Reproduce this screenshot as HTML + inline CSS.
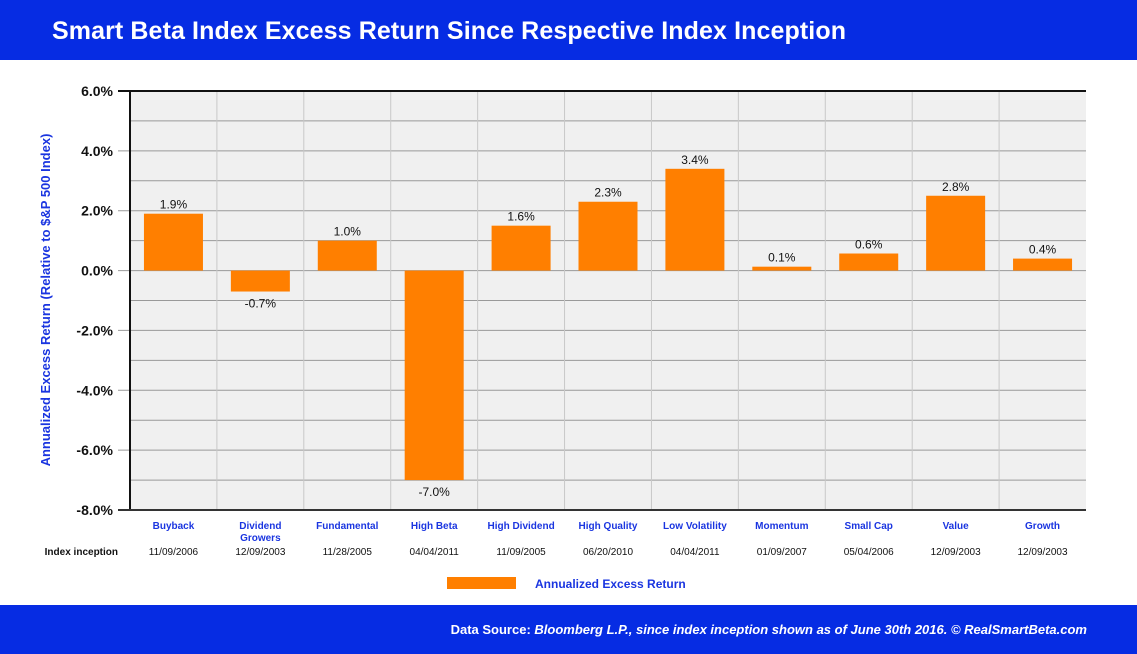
<!DOCTYPE html>
<html><head><meta charset="utf-8">
<style>
body{margin:0;width:1137px;height:654px;overflow:hidden;background:#fff;font-family:"Liberation Sans",sans-serif;position:relative}
.hdr{position:absolute;left:0;top:0;width:1137px;height:60px;background:#062ce3}
.hdr span{position:absolute;left:52px;top:17px;color:#fff;font-size:25px;font-weight:bold;letter-spacing:0.1px}
.ftr{position:absolute;left:0;top:605px;width:1137px;height:49px;background:#062ce3;color:#fff;font-size:13px}
.ftr span{position:absolute;right:50px;top:17px;font-weight:bold}
</style></head><body>
<div class="hdr"><span>Smart Beta Index Excess Return Since Respective Index Inception</span></div>
<svg id="c" width="1137" height="654" style="position:absolute;left:0;top:0"></svg>
<div class="ftr"><span>Data Source: <i>Bloomberg L.P., since index inception shown as of June 30th 2016. © RealSmartBeta.com</i></span></div>
<script>
const categories=["Buyback","Dividend|Growers","Fundamental","High Beta","High Dividend","High Quality","Low Volatility","Momentum","Small Cap","Value","Growth"];
const values=[1.9,-0.7,1.0,-7.0,1.5,2.3,3.4,0.13,0.57,2.5,0.4];
const valueLabels=["1.9%","-0.7%","1.0%","-7.0%","1.6%","2.3%","3.4%","0.1%","0.6%","2.8%","0.4%"];
const inceptions=["11/09/2006","12/09/2003","11/28/2005","04/04/2011","11/09/2005","06/20/2010","04/04/2011","01/09/2007","05/04/2006","12/09/2003","12/09/2003"];
const yTicks=[6,4,2,0,-2,-4,-6,-8];
const yMin=-8,yMax=6;
const L=130,R=1086,T=91,B=510;
const svg=document.getElementById('c');
const NS="http://www.w3.org/2000/svg";
function y(v){return T+(yMax-v)/(yMax-yMin)*(B-T);}
const bw=(R-L)/categories.length;
function x(i){return L+i*bw;}
function mk(t,a,txt){const e=document.createElementNS(NS,t);for(const k in a)e.setAttribute(k,a[k]);if(txt!==undefined)e.textContent=txt;svg.appendChild(e);return e;}
let bg=mk('rect',{x:L,y:T,width:R-L,height:B-T,fill:'#f0f0f0'});


for(let v=yMin;v<=yMax;v+=1){let g=mk('line',{x1:(v%2===0)?118:L,x2:R,y1:y(v),y2:y(v),stroke:'#999','stroke-width':1});

}
for(let i=1;i<categories.length;i++){let g=mk('line',{x1:x(i),x2:x(i),y1:T,y2:B,stroke:'#c8c8c8','stroke-width':1});

}
mk('line',{x1:L,x2:L,y1:T,y2:B,stroke:'#111','stroke-width':2});
mk('line',{x1:118,x2:R,y1:T,y2:T,stroke:'#111','stroke-width':2});
mk('line',{x1:118,x2:R,y1:B,y2:B,stroke:'#333','stroke-width':2});
yTicks.forEach(v=>{let t=mk('text',{x:113,y:y(v)+5,'text-anchor':'end','font-size':14,'font-weight':'bold',fill:'#111'},v.toFixed(1)+'%');

});
categories.forEach((c,i)=>{
 const v=values[i],cx=x(i)+bw/2;
 let r=mk('rect',{x:cx-29.5,y:Math.min(y(v),y(0)),width:59,height:Math.abs(y(v)-y(0)),fill:'#ff7f00'});
 
 
 let ly=v>=0?y(v)-5:y(v)+16;
 let lt=mk('text',{x:cx,y:ly,'text-anchor':'middle','font-size':12,fill:'#111'},valueLabels[i]);
 
 
 c.split('|').forEach((p,k)=>{let t=mk('text',{x:cx,y:529+k*12,'text-anchor':'middle','font-size':10,'font-weight':'bold',fill:'#1a35e0'},p);
 
 });
 let d=mk('text',{x:cx,y:555,'text-anchor':'middle','font-size':10,fill:'#111'},inceptions[i]);
 
 
});
let il=mk('text',{x:118,y:555,'text-anchor':'end','font-size':10,'font-weight':'bold',fill:'#111'},'Index inception');


let yt=mk('text',{x:0,y:0,transform:'translate(50,300) rotate(-90)','text-anchor':'middle','font-size':13,'font-weight':'bold',fill:'#1a35e0'},'Annualized Excess Return (Relative to $&P 500 Index)');


let ls=mk('rect',{x:447,y:577,width:69,height:12,fill:'#ff7f00'});


let lt=mk('text',{x:535,y:588,'font-size':12,'font-weight':'bold',fill:'#1a35e0'},'Annualized Excess Return');


</script>
</body></html>
